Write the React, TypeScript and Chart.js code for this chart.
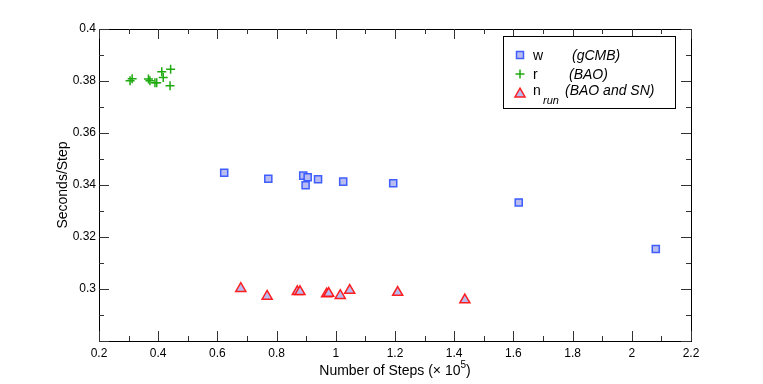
import React, { useEffect, useRef } from "react";
import { Chart, registerables } from "chart.js";

Chart.register(...registerables);

// Number of steps (×10^5) and seconds/step
const wSteps = [0.623, 0.772, 0.890, 0.905, 0.898, 0.940, 1.025, 1.194, 1.618, 2.081];
const wSecs = [0.3447, 0.3424, 0.3436, 0.3430, 0.3399, 0.3422, 0.3413, 0.3407, 0.3333, 0.3154];

const rSteps = [0.305, 0.312, 0.367, 0.372, 0.389, 0.395, 0.412, 0.417, 0.442, 0.440];
const rSecs = [0.3801, 0.3809, 0.3808, 0.3801, 0.3793, 0.3793, 0.3836, 0.3813, 0.3845, 0.3782];

const nSteps = [0.679, 0.768, 0.870, 0.879, 0.969, 0.976, 1.015, 1.047, 1.209, 1.436];
const nSecs = [0.3002, 0.2972, 0.2990, 0.2990, 0.2981, 0.2983, 0.2975, 0.2995, 0.2987, 0.2958];

const xMin = 0.2, xMax = 2.2, xMajor = 0.2, xMinor = 0.1;
const yMin = 0.28, yMax = 0.4, yMajor = 0.02, yMinor = 0.01;

const FONT = "'Liberation Sans', Arial, Helvetica, sans-serif";

const SQ_BG = "#b8bcf0";
const SQ_BORDER = "rgba(45,80,255,0.9)";
const TRI_BORDER = "rgba(255,20,20,0.95)";
const CROSS = "#1faa10";

function toPts(xs: number[], ys: number[]) {
  return xs.map((x, i) => ({ x, y: ys[i] }));
}

const framePlugin = {
  id: "framePlugin",
  afterDraw(chart: any) {
    const { ctx, chartArea: a, scales } = chart;
    const xs = scales.x, ys = scales.y;
    ctx.save();
    ctx.strokeStyle = "#000";
    ctx.lineWidth = 1;
    ctx.strokeRect(Math.round(a.left) + 0.5, Math.round(a.top) + 0.5, Math.round(a.right - a.left), Math.round(a.bottom - a.top));
    ctx.strokeStyle = "#333";
    ctx.beginPath();
    const nx = Math.round((xMax - xMin) / xMinor);
    for (let i = 0; i <= nx; i++) {
      const v = xMin + i * xMinor;
      const len = i % 2 === 0 ? 10 : 5;
      const px = Math.round(xs.getPixelForValue(v)) + 0.5;
      ctx.moveTo(px, a.bottom); ctx.lineTo(px, a.bottom - len);
      ctx.moveTo(px, a.top); ctx.lineTo(px, a.top + len);
    }
    const ny = Math.round((yMax - yMin) / yMinor);
    for (let i = 0; i <= ny; i++) {
      const v = yMin + i * yMinor;
      const len = i % 2 === 0 ? 10 : 5;
      const py = Math.round(ys.getPixelForValue(v)) + 0.5;
      ctx.moveTo(a.left, py); ctx.lineTo(a.left + len, py);
      ctx.moveTo(a.right, py); ctx.lineTo(a.right - len, py);
    }
    ctx.stroke();

    // axis titles
    ctx.fillStyle = "#000";
    ctx.textBaseline = "alphabetic";
    const main = "Number of Steps (\u00d7 10";
    const sup = "5";
    const close = ")";
    ctx.font = `14px ${FONT}`;
    const w1 = ctx.measureText(main).width;
    const w3 = ctx.measureText(close).width;
    ctx.font = `10px ${FONT}`;
    const w2 = ctx.measureText(sup).width;
    const total = w1 + w2 + w3;
    const cx = (a.left + a.right) / 2;
    const sx = cx - total / 2;
    const by = 375;
    ctx.font = `14px ${FONT}`;
    ctx.textAlign = "left";
    ctx.fillText(main, sx, by);
    ctx.font = `10px ${FONT}`;
    ctx.fillText(sup, sx + w1, by - 7);
    ctx.font = `14px ${FONT}`;
    ctx.fillText(close, sx + w1 + w2, by);

    ctx.save();
    ctx.translate(67, (a.top + a.bottom) / 2);
    ctx.rotate(-Math.PI / 2);
    ctx.textAlign = "center";
    ctx.font = `14px ${FONT}`;
    ctx.fillText("Seconds/Step", 0, 0);
    ctx.restore();

    // legend
    const lx = 503, ly = 36, lw = 172, lh = 72;
    ctx.fillStyle = "#fff";
    ctx.fillRect(lx, ly, lw, lh);
    ctx.strokeStyle = "#000";
    ctx.lineWidth = 1;
    ctx.strokeRect(lx + 0.5, ly + 0.5, lw, lh);

    const mx = 520;
    ctx.fillStyle = SQ_BG;
    ctx.strokeStyle = SQ_BORDER;
    ctx.lineWidth = 1.5;
    ctx.fillRect(mx - 3.5, 55 - 3.5, 7, 7);
    ctx.strokeRect(mx - 3.5, 55 - 3.5, 7, 7);
    ctx.strokeStyle = CROSS;
    ctx.beginPath();
    ctx.moveTo(mx - 4.5, 74); ctx.lineTo(mx + 4.5, 74);
    ctx.moveTo(mx, 74 - 4.5); ctx.lineTo(mx, 74 + 4.5);
    ctx.stroke();
    const r = 5.8, ty = 94;
    ctx.beginPath();
    ctx.moveTo(mx, ty - r);
    ctx.lineTo(mx + r * 0.866, ty + r / 2);
    ctx.lineTo(mx - r * 0.866, ty + r / 2);
    ctx.closePath();
    ctx.fillStyle = SQ_BG;
    ctx.fill();
    ctx.strokeStyle = TRI_BORDER;
    ctx.stroke();

    ctx.fillStyle = "#000";
    ctx.textAlign = "left";
    ctx.textBaseline = "alphabetic";
    ctx.font = `14px ${FONT}`;
    ctx.fillText("w", 533, 60);
    ctx.fillText("r", 533, 79);
    ctx.fillText("n", 533, 95);
    ctx.font = `italic 14px ${FONT}`;
    ctx.fillText("(gCMB)", 572, 60);
    ctx.fillText("(BAO)", 569, 79);
    ctx.fillText("(BAO and SN)", 565, 95);
    ctx.font = `italic 11px ${FONT}`;
    ctx.fillText("run", 543, 104);
    ctx.restore();
  },
};

export default function App() {
  const ref = useRef<HTMLCanvasElement | null>(null);
  useEffect(() => {
    document.body.style.margin = "0";
    const canvas = ref.current;
    if (!canvas) return;
    const chart = new Chart(canvas, {
      type: "scatter",
      data: {
        datasets: [
          {
            label: "w (gCMB)",
            data: toPts(wSteps, wSecs),
            pointStyle: "rect",
            pointRadius: 5,
            backgroundColor: SQ_BG,
            borderColor: SQ_BORDER,
            borderWidth: 1.5,
          },
          {
            label: "r (BAO)",
            data: toPts(rSteps, rSecs),
            pointStyle: "cross",
            pointRadius: 4.5,
            backgroundColor: CROSS,
            borderColor: CROSS,
            borderWidth: 1.5,
          },
          {
            label: "n_run (BAO and SN)",
            data: toPts(nSteps, nSecs),
            pointStyle: "triangle",
            pointRadius: 5.8,
            backgroundColor: SQ_BG,
            borderColor: TRI_BORDER,
            borderWidth: 1.5,
          },
        ],
      },
      options: {
        animation: false,
        responsive: false,
        maintainAspectRatio: false,
        layout: { padding: { left: 0, top: 29, right: 72, bottom: 0 } },
        plugins: { legend: { display: false }, tooltip: { enabled: false } },
        scales: {
          x: {
            type: "linear",
            min: xMin,
            max: xMax,
            grid: { display: false, drawTicks: false },
            border: { display: false },
            afterFit: (s: any) => { s.height = 384 - 341; },
            ticks: {
              stepSize: xMajor,
              padding: 5,
              color: "#000",
              font: { family: FONT, size: 12 },
              maxRotation: 0,
              autoSkip: false,
              callback: (v: any) => String(Number(Number(v).toFixed(2))),
            },
          },
          y: {
            type: "linear",
            min: yMin,
            max: yMax,
            grid: { display: false, drawTicks: false },
            border: { display: false },
            afterFit: (s: any) => { s.width = 99; },
            ticks: {
              stepSize: yMajor,
              padding: 3,
              color: "#000",
              font: { family: FONT, size: 12 },
              autoSkip: false,
              callback: (v: any) => (Number(v) < 0.285 ? "" : String(Number(Number(v).toFixed(2)))),
            },
          },
        },
      },
      plugins: [framePlugin],
    } as any);
    return () => chart.destroy();
  }, []);
  return (
    <div style={{ position: "fixed", left: 0, top: 0, width: 763, height: 384, background: "#fff" }}>
      <canvas ref={ref} width={763} height={384} style={{ width: 763, height: 384 }} />
    </div>
  );
}
